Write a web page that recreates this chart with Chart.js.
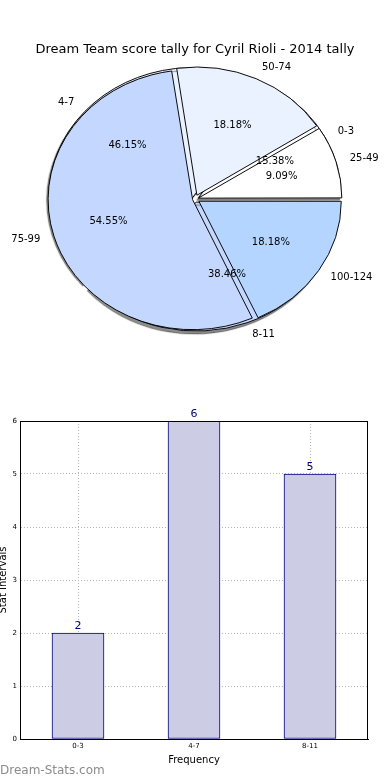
<!DOCTYPE html>
<html>
<head>
<meta charset="utf-8">
<script src="https://cdn.jsdelivr.net/npm/chart.js@4.4.1/dist/chart.umd.min.js"></script>
<style>
    html, body { margin: 0; padding: 0; background: #fff; }
    body { width: 390px; height: 780px; position: relative; overflow: hidden; font-family: 'DejaVu Sans', sans-serif; }
    #pieChart { position: absolute; left: 0; top: 0; }
    #barChart { position: absolute; left: 0; top: 400px; }
    .watermark { position: absolute; left: 0; top: 763px; font-size: 12px; line-height: 14px; color: #8c8c8c; }
</style>
</head>
<body>
<canvas id="pieChart" width="390" height="350"></canvas>
<canvas id="barChart" width="390" height="380"></canvas>
<div class="watermark">Dream-Stats.com</div>
<script>
// Data
const chartTitle = 'Dream Team score tally for Cyril Rioli - 2014 tally';
const smallRanges = ['0-3', '4-7', '8-11'];
const smallCounts = [2, 6, 5];
const bigRanges = ['25-49', '50-74', '75-99', '100-124'];
const bigCounts = [1, 2, 6, 2];
const barLabels = ['0-3', '4-7', '8-11'];
const barValues = [2, 6, 5];
const yTickMin = 0;
const yTickMax = 6;

// Styling
const pieColors = ['#ffffff', '#eaf1ff', '#c4d8ff', '#b4d5ff'];
const yScale = 0.9;     // the original pie is squashed vertically
const explode = 5;      // px each wedge is pulled out

Chart.defaults.font.family = "'DejaVu Sans', sans-serif";
Chart.defaults.color = '#000';

// matplotlib goes counter-clockwise from 3 o'clock, chart.js clockwise -> reverse
const rev = arr => arr.slice().reverse();

function explodeOffset(ctx) {
    if (ctx.type !== 'data') return 0;
    const total = ctx.dataset.data.reduce((a, b) => a + b, 0);
    const angle = ctx.raw / total * 2 * Math.PI;
    // chart.js moves an arc by offset/4 * (2 - sin(angle)); undo that
    return 4 * explode / (2 - Math.sin(Math.min(Math.PI, angle)));
}

function labelPoint(arc, k, cy) {
    const mid = (arc.startAngle + arc.endAngle) / 2;
    const push = arc.options.offset / 4 * (2 - Math.sin(Math.min(Math.PI, arc.circumference)));
    const dist = push + k * arc.outerRadius;
    return {
        x: arc.x + Math.cos(mid) * dist,
        y: cy + (arc.y + Math.sin(mid) * dist - cy) * yScale,
        right: Math.cos(mid) > 0
    };
}

// Both pies drawn full size on top of each other, squashed, with labels
const pieShape = {
    id: 'pieShape',
    afterDatasetsUpdate(chart) {
        const a = chart.chartArea;
        const r = Math.min(a.right - a.left, a.bottom - a.top) / 2;
        chart.data.datasets.forEach((ds, i) => {
            chart.getDatasetMeta(i).data.forEach(arc => {
                arc.innerRadius = 0;
                arc.outerRadius = r;
            });
        });
    },
    beforeDatasetsDraw(chart) {
        const { ctx, chartArea: a } = chart;
        const cy = (a.top + a.bottom) / 2;
        ctx.save();
        ctx.translate(0, cy);
        ctx.scale(1, yScale);
        ctx.translate(0, -cy);
    },
    beforeDatasetDraw(chart, args) {
        if (args.index === 1) {
            const ctx = chart.ctx;
            ctx.shadowColor = 'rgba(0,0,0,0.45)';
            ctx.shadowOffsetX = -2;
            ctx.shadowOffsetY = 3;
            ctx.shadowBlur = 1;
        }
    },
    afterDatasetDraw(chart, args) {
        if (args.index === 1) {
            const ctx = chart.ctx;
            ctx.shadowColor = 'rgba(0,0,0,0)';
            ctx.shadowOffsetX = 0;
            ctx.shadowOffsetY = 0;
            ctx.shadowBlur = 0;
        }
    },
    afterDatasetsDraw(chart) {
        const { ctx, chartArea: a } = chart;
        ctx.restore();
        const cy = (a.top + a.bottom) / 2;
        ctx.save();
        ctx.font = "10px 'DejaVu Sans'";
        ctx.fillStyle = '#000';
        ctx.textBaseline = 'middle';
        chart.data.datasets.forEach((ds, i) => {
            const total = ds.data.reduce((s, v) => s + v, 0);
            chart.getDatasetMeta(i).data.forEach((arc, j) => {
                const p = labelPoint(arc, 1.1, cy);
                ctx.textAlign = p.right ? 'left' : 'right';
                ctx.fillText(ds.names[j], p.x, p.y);
                const q = labelPoint(arc, 0.6, cy);
                ctx.textAlign = 'center';
                ctx.fillText((ds.data[j] / total * 100).toFixed(2) + '%', q.x, q.y);
            });
        });
        ctx.restore();
    }
};

new Chart(document.getElementById('pieChart'), {
    type: 'pie',
    data: {
        labels: rev(bigRanges),
        datasets: [{
            names: rev(bigRanges),
            data: rev(bigCounts),
            backgroundColor: rev(pieColors),
            borderColor: '#000',
            borderWidth: 1,
            offset: explodeOffset,
            clip: false
        }, {
            names: rev(smallRanges),
            data: rev(smallCounts),
            backgroundColor: rev(pieColors.slice(0, 3)),
            borderColor: '#000',
            borderWidth: 1,
            offset: explodeOffset,
            clip: false
        }]
    },
    options: {
        responsive: false,
        animation: false,
        devicePixelRatio: 1,
        events: [],
        rotation: 90,
        layout: { padding: { top: 19.4, bottom: 9, left: 0, right: 0 } },
        plugins: {
            legend: { display: false },
            tooltip: { enabled: false },
            title: {
                display: true,
                text: chartTitle,
                color: '#000',
                font: { size: 13, weight: 'normal' },
                padding: { top: 22, bottom: 0 }
            }
        }
    },
    plugins: [pieShape]
});

// Box round the plot area
const frame = {
    id: 'frame',
    afterDraw(chart) {
        const { ctx, chartArea: a } = chart;
        ctx.save();
        ctx.strokeStyle = '#000';
        ctx.lineWidth = 1;
        ctx.strokeRect(Math.round(a.left) + 0.5, Math.round(a.top) + 0.5,
            Math.round(a.right - a.left) - 1, Math.round(a.bottom - a.top));
        ctx.restore();
    }
};

const valueLabels = {
    id: 'valueLabels',
    afterDatasetsDraw(chart) {
        const ctx = chart.ctx;
        ctx.save();
        ctx.font = "11px 'DejaVu Sans'";
        ctx.fillStyle = '#000080';
        ctx.textAlign = 'center';
        ctx.textBaseline = 'alphabetic';
        chart.getDatasetMeta(0).data.forEach((bar, i) => {
            ctx.fillText(barValues[i], bar.x, bar.y - 4);
        });
        ctx.restore();
    }
};

const gridStyle = { color: '#b4b4b4', lineWidth: 1, drawTicks: false };

new Chart(document.getElementById('barChart'), {
    type: 'bar',
    data: {
        labels: barLabels,
        datasets: [{
            data: barValues,
            backgroundColor: '#ccccE5',
            borderColor: '#000080',
            borderWidth: 1,
            borderSkipped: false,
            barThickness: 52
        }]
    },
    options: {
        responsive: false,
        animation: false,
        devicePixelRatio: 1,
        events: [],
        layout: { padding: { top: 21, right: 22, left: 0, bottom: 0 } },
        plugins: {
            legend: { display: false },
            tooltip: { enabled: false }
        },
        scales: {
            x: {
                grid: { ...gridStyle, offset: false },
                border: { display: true, color: '#000', dash: [1, 2] },
                ticks: { font: { size: 7 }, color: '#000', padding: 3 },
                title: {
                    display: true,
                    text: 'Frequency',
                    color: '#000',
                    font: { size: 10 },
                    padding: { top: 0, bottom: 14 }
                },
                afterFit(scale) { scale.height = 41; }
            },
            y: {
                min: yTickMin,
                max: yTickMax,
                grid: gridStyle,
                border: { display: true, color: '#000', dash: [1, 2] },
                ticks: { stepSize: 1, font: { size: 7 }, color: '#000', padding: 3 },
                title: {
                    display: true,
                    text: 'Stat Intervals',
                    color: '#000',
                    font: { size: 10 },
                    padding: { top: -3, bottom: 0 }
                },
                afterFit(scale) { scale.width = 20; }
            }
        }
    },
    plugins: [frame, valueLabels]
});
</script>
</body>
</html>
